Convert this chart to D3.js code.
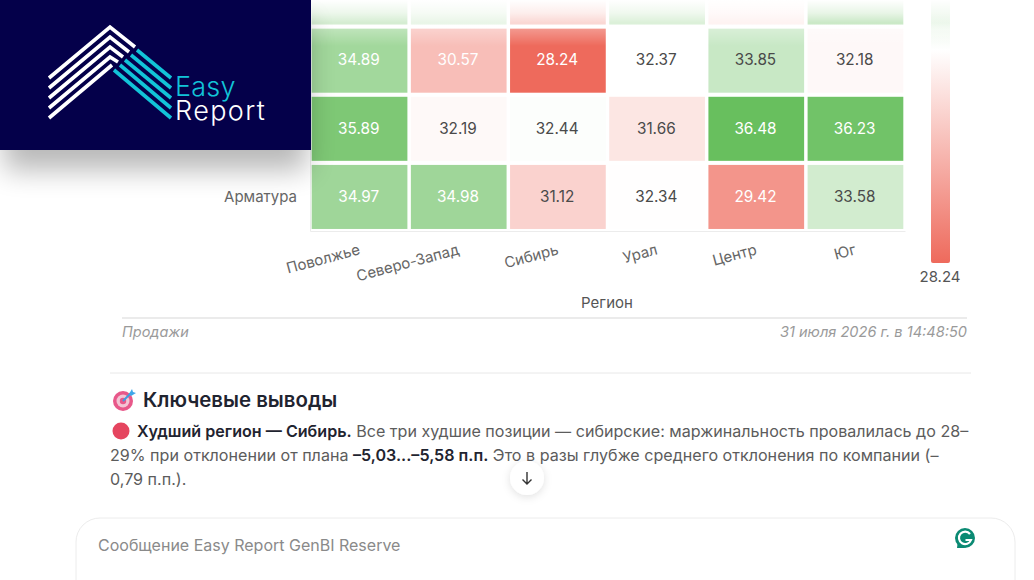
<!DOCTYPE html>
<html>
<head>
<meta charset="utf-8">
<script src="https://cdn.jsdelivr.net/npm/d3@7"></script>
<style>
  html, body { margin: 0; padding: 0; background: #fff; overflow: hidden; }
  svg { display: block; font-family: Inter, "Noto Sans", sans-serif; }
</style>
</head>
<body>
<svg id="chart" width="1034" height="580"></svg>
<script>
const regions = ["Поволжье", "Северо-Запад", "Сибирь", "Урал", "Центр", "Юг"];
// first three row names are hidden by the logo panel
const products = ["row0", "row1", "row2", "Арматура"];
const row0 = [33.6, 33.0, 31.2, 33.4, 32.0, 33.9];
const row1 = [34.89, 30.57, 28.24, 32.37, 33.85, 32.18];
const row2 = [35.89, 32.19, 32.44, 31.66, 36.48, 36.23];
const row3 = [34.97, 34.98, 31.12, 32.34, 29.42, 33.58];
const rows = [row0, row1, row2, row3];
const valueMin = 28.24;
const valueMax = 36.48;

const svg = d3.select("#chart");
const defs = svg.append("defs");

const x = d3.scaleBand().domain(regions).range([310, 905]).paddingInner(0.035).paddingOuter(0.017);
const y = d3.scaleBand().domain(products).range([-41.5, 231]).paddingInner(0.06).paddingOuter(0.03);

const color = d3
  .scaleLinear()
  .domain([valueMin, (valueMin + valueMax) / 2, valueMax])
  .range(["#ee6a5c", "#ffffff", "#68bf5e"]);

const cells = rows.flatMap((values, r) =>
  values.map((v, c) => ({ region: regions[c], product: products[r], value: v }))
);

// Heatmap cells
svg
  .selectAll(".cell")
  .data(cells)
  .enter()
  .append("rect")
  .attr("class", "cell")
  .attr("x", (d) => x(d.region))
  .attr("y", (d) => y(d.product))
  .attr("width", x.bandwidth())
  .attr("height", y.bandwidth())
  .attr("fill", (d) => color(d.value));

// The top row's numbers are above the picture, so they get no label
svg
  .selectAll(".cell-label")
  .data(cells.filter((d) => d.product !== "row0"))
  .enter()
  .append("text")
  .attr("class", "cell-label")
  .attr("x", (d) => x(d.region) + x.bandwidth() / 2 - 0.8)
  .attr("y", (d) => y(d.product) + y.bandwidth() / 2 + 4.8)
  .attr("text-anchor", "middle")
  .style("font-size", "15.3px")
  .style("fill", (d) => (Math.abs(d.value - 32.36) > 1.6 ? "#ffffff" : "#4a4a4a"))
  .text((d) => d.value.toFixed(2));

// X axis with tilted labels
const xAxis = svg
  .append("g")
  .attr("transform", "translate(0,231)")
  .call(d3.axisBottom(x).tickSize(0));
xAxis.select(".domain").attr("stroke", "#ececec");
xAxis
  .selectAll("text")
  .attr("text-anchor", "end")
  .attr("transform", "translate(0,18) rotate(-15)")
  .attr("dy", "0.35em")
  .attr("y", 0)
  .style("font-size", "15px")
  .style("font-family", "Inter")
  .style("fill", "#666");

// Y axis, only the last row name is visible
const yAxis = svg
  .append("g")
  .attr("transform", "translate(310,0)")
  .call(d3.axisLeft(y).tickSize(0).tickPadding(13).tickFormat((d) => (d.startsWith("row") ? "" : d)));
yAxis.select(".domain").attr("stroke", "#ececec");
yAxis
  .selectAll("text")
  .style("font-size", "15px")
  .style("font-family", "Inter")
  .style("fill", "#666");

svg
  .append("text")
  .attr("x", 607)
  .attr("y", 308)
  .attr("text-anchor", "middle")
  .style("font-size", "15px")
  .style("fill", "#555")
  .text("Регион");

// Colour legend
const legendY = d3.scaleLinear().domain([valueMin, valueMax]).range([263, -163]);
const legendGrad = defs
  .append("linearGradient")
  .attr("id", "legend-grad")
  .attr("gradientUnits", "userSpaceOnUse")
  .attr("x1", 0)
  .attr("x2", 0)
  .attr("y1", legendY(valueMin))
  .attr("y2", legendY(valueMax));
[0, 0.5, 1].forEach((t) => {
  const v = valueMin + t * (valueMax - valueMin);
  legendGrad.append("stop").attr("offset", t).attr("stop-color", color(v));
});
svg
  .append("rect")
  .attr("x", 931)
  .attr("y", legendY(valueMax))
  .attr("width", 19)
  .attr("height", legendY(valueMin) - legendY(valueMax))
  .attr("rx", 2)
  .attr("fill", "url(#legend-grad)");
svg
  .append("text")
  .attr("x", 940)
  .attr("y", 282)
  .attr("text-anchor", "middle")
  .style("font-size", "15px")
  .style("fill", "#555")
  .text(valueMin.toFixed(2));

// Fade at the top of the scrolled area
const fade = defs
  .append("linearGradient")
  .attr("id", "top-fade")
  .attr("x1", 0)
  .attr("x2", 0)
  .attr("y1", 0)
  .attr("y2", 1);
[[0, 1], [0.28, 0.6], [0.5, 0.05], [0.64, 0.3], [1, 0]].forEach(([o, a]) => {
  fade.append("stop").attr("offset", o).attr("stop-color", "#fff").attr("stop-opacity", a);
});
svg.append("rect").attr("x", 300).attr("y", 0).attr("width", 680).attr("height", 46).attr("fill", "url(#top-fade)");

// Footer of the chart card
svg.append("line").attr("x1", 122).attr("x2", 967).attr("y1", 318).attr("y2", 318).attr("stroke", "#e4e4e4").attr("stroke-width", 1.5);
svg
  .append("text")
  .attr("x", 122)
  .attr("y", 337)
  .style("font-size", "14.5px")
  .style("font-style", "italic")
  .style("fill", "#9a9a9a")
  .text("Продажи");
svg
  .append("text")
  .attr("x", 967)
  .attr("y", 337)
  .attr("text-anchor", "end")
  .style("font-size", "14.6px")
  .style("font-style", "italic")
  .style("fill", "#9a9a9a")
  .text("31 июля 2026 г. в 14:48:50");
svg.append("line").attr("x1", 110).attr("x2", 971).attr("y1", 373).attr("y2", 373).attr("stroke", "#e8e8e8");

// Target icon
const target = svg.append("g").attr("transform", "translate(123,401)");
target.append("circle").attr("r", 10).attr("fill", "#e8588a");
target.append("circle").attr("r", 6.5).attr("fill", "#f3c4d4");
target.append("circle").attr("r", 3.2).attr("fill", "#e8588a");
target.append("line").attr("x1", 0).attr("y1", 0).attr("x2", 8).attr("y2", -8).attr("stroke", "#3f9be0").attr("stroke-width", 2);
target.append("path").attr("d", "M6,-7 L9,-12 L10,-9 L13,-8 L8,-5 Z").attr("fill", "#3fa7ea");

svg
  .append("text")
  .attr("x", 143)
  .attr("y", 407)
  .style("font-size", "20.4px")
  .style("font-weight", 600)
  .style("fill", "#1f2430")
  .text("Ключевые выводы");

svg.append("circle").attr("cx", 121).attr("cy", 431).attr("r", 8.5).attr("fill", "#e5455f");

// Paragraph: bold and normal runs on three lines
const runs = [
  { yPos: 437, x0: 137, parts: [["Худший регион — Сибирь.", 1], [" Все три худшие позиции — сибирские: маржинальность провалилась до 28–", 0]] },
  { yPos: 461, x0: 110, parts: [["29% при отклонении от плана ", 0], ["–5,03...–5,58 п.п.", 1], [" Это в разы глубже среднего отклонения по компании (–", 0]] },
  { yPos: 485, x0: 110, parts: [["0,79 п.п.).", 0]] }
];
runs.forEach((line) => {
  const t = svg
    .append("text")
    .attr("x", line.x0)
    .attr("y", line.yPos)
    .attr("xml:space", "preserve")
    .style("white-space", "pre")
    .style("font-size", "16.1px");
  line.parts.forEach(([s, bold]) => {
    t.append("tspan")
      .style("font-weight", bold ? 600 : 400)
      .style("fill", bold ? "#1f2430" : "#5c5c5c")
      .text(s);
  });
});

// Scroll button
const blur = defs.append("filter").attr("id", "soft").attr("x", "-50%").attr("y", "-50%").attr("width", "200%").attr("height", "200%");
blur.append("feDropShadow").attr("dx", 0).attr("dy", 2).attr("stdDeviation", 4).attr("flood-color", "#000").attr("flood-opacity", 0.12);
svg.append("circle").attr("cx", 527).attr("cy", 478).attr("r", 17).attr("fill", "#fff").attr("filter", "url(#soft)");
svg
  .append("path")
  .attr("d", "M527,472 V484 M522.5,479.5 L527,484 L531.5,479.5")
  .attr("fill", "none")
  .attr("stroke", "#333")
  .attr("stroke-width", 1.4);

// Message box
svg
  .append("rect")
  .attr("x", 76)
  .attr("y", 518)
  .attr("width", 939)
  .attr("height", 100)
  .attr("rx", 24)
  .attr("fill", "#fff")
  .attr("stroke", "#ececec");
svg
  .append("text")
  .attr("x", 98)
  .attr("y", 551)
  .style("font-size", "16px")
  .style("fill", "#8a8a8a")
  .text("Сообщение Easy Report GenBI Reserve");

// Grammarly badge
svg.append("circle").attr("cx", 965).attr("cy", 539).attr("r", 12).attr("fill", "#fff");
svg.append("circle").attr("cx", 965).attr("cy", 538).attr("r", 10).attr("fill", "#0b8a73");
svg.append("path").attr("d", "M958,540 L957,548 L965,548 Z").attr("fill", "#0b8a73");
svg
  .append("path")
  .attr("d", "M970,534 A6.2,6.2 0 1 0 971,540 H965.5")
  .attr("fill", "none")
  .attr("stroke", "#fff")
  .attr("stroke-width", 2.2);

// Logo panel with its shadow
const shadow = defs.append("filter").attr("id", "panel-shadow").attr("x", "-20%").attr("y", "-20%").attr("width", "140%").attr("height", "160%");
shadow.append("feGaussianBlur").attr("stdDeviation", 14);
svg.append("rect").attr("x", 4).attr("y", 20).attr("width", 303).attr("height", 150).attr("fill", "#000").attr("opacity", 0.28).attr("filter", "url(#panel-shadow)");
svg.append("rect").attr("x", 0).attr("y", 0).attr("width", 311).attr("height", 150).attr("fill", "#04004a");

const logoWhite = [
  [[49, 78], [110, 27], [135, 47]],
  [[49, 88], [110, 37], [129, 52]],
  [[49, 98], [110, 47], [123, 57]],
  [[49, 108], [110, 57], [118, 62]],
  [[49, 118], [112, 65]]
];
const logoCyan = [
  [[137, 50], [171, 78]],
  [[131, 55], [171, 88]],
  [[125, 60], [171, 98]],
  [[120, 65], [171, 108]],
  [[114, 70], [171, 118]]
];
const logoLine = d3.line();
svg.selectAll(".logo-w").data(logoWhite).enter().append("path").attr("d", logoLine).attr("fill", "none").attr("stroke", "#fff").attr("stroke-width", 3.6);
svg.selectAll(".logo-c").data(logoCyan).enter().append("path").attr("d", logoLine).attr("fill", "none").attr("stroke", "#12c4d8").attr("stroke-width", 3.6);
svg
  .append("text")
  .attr("x", 175)
  .attr("y", 96)
  .style("font-size", "27px")
  .style("font-weight", 300)
  .style("letter-spacing", "0.2px")
  .style("fill", "#12c4d8")
  .text("Easy");
svg
  .append("text")
  .attr("x", 175)
  .attr("y", 120)
  .style("font-size", "27px")
  .style("font-weight", 300)
  .style("letter-spacing", "1.4px")
  .style("fill", "#fff")
  .text("Report");
</script>
</body>
</html>
